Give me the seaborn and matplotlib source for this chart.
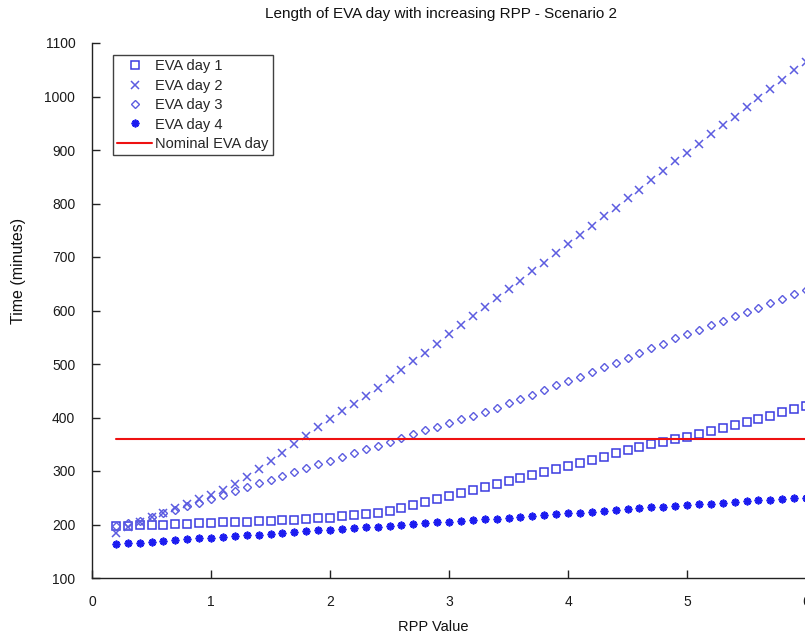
import matplotlib
matplotlib.use("Agg")
import matplotlib.pyplot as plt
import seaborn as sns
import pandas as pd

rpp = [0.2, 0.3, 0.4, 0.5, 0.6, 0.7, 0.8, 0.9, 1.0, 1.1, 1.2, 1.3, 1.4, 1.5, 1.6, 1.7, 1.8, 1.9,
       2.0, 2.1, 2.2, 2.3, 2.4, 2.5, 2.6, 2.7, 2.8, 2.9, 3.0, 3.1, 3.2, 3.3, 3.4, 3.5, 3.6, 3.7,
       3.8, 3.9, 4.0, 4.1, 4.2, 4.3, 4.4, 4.5, 4.6, 4.7, 4.8, 4.9, 5.0, 5.1, 5.2, 5.3, 5.4, 5.5,
       5.6, 5.7, 5.8, 5.9, 6.0]

eva_day1 = [197, 198, 199, 200, 200, 201, 201, 202, 203, 204, 204, 205, 206, 207, 208, 209, 211, 212,
            213, 215, 217, 219, 222, 226, 231, 236, 242, 248, 254, 259, 265, 270, 276, 282, 287, 292,
            298, 303, 309, 315, 321, 327, 333, 339, 344, 350, 355, 360, 364, 370, 375, 381, 386, 391,
            397, 403, 410, 416, 421]

eva_day2 = [185, 196, 205, 214, 222, 230, 238, 247, 255, 265, 276, 289, 303, 319, 334, 350, 366, 382,
            397, 412, 425, 441, 456, 472, 488, 505, 521, 538, 556, 573, 590, 606, 623, 640, 656, 673,
            689, 708, 724, 741, 758, 776, 792, 810, 826, 844, 861, 879, 895, 912, 929, 947, 962, 980,
            997, 1014, 1031, 1049, 1065]

eva_day3 = [197, 202, 207, 214, 221, 228, 235, 241, 248, 255, 263, 270, 277, 284, 291, 298, 306, 313,
            319, 327, 334, 341, 347, 355, 361, 369, 376, 382, 389, 397, 403, 411, 418, 427, 435, 442,
            451, 460, 468, 476, 485, 494, 502, 511, 520, 529, 538, 548, 556, 564, 572, 580, 589, 597,
            605, 614, 622, 631, 639]

eva_day4 = [163, 165, 166, 168, 169, 171, 172, 174, 175, 177, 178, 180, 181, 183, 184, 186, 187, 189,
            190, 192, 193, 195, 196, 198, 199, 201, 202, 204, 205, 207, 208, 210, 211, 213, 214, 216,
            218, 219, 221, 222, 224, 225, 227, 229, 230, 232, 233, 235, 236, 238, 239, 241, 242, 244,
            245, 246, 248, 249, 250]

nominal_x = [0.2, 7.0]
nominal_y = [360, 360]

y_ticks = [100, 200, 300, 400, 500, 600, 700, 800, 900, 1000, 1100]
x_ticks = [0, 1, 2, 3, 4, 5, 6, 7]

sns.set_style("white")
plt.rcParams['font.family'] = ['Liberation Sans', 'DejaVu Sans']

W, H = 805, 635
fig = plt.figure(figsize=(W / 100, H / 100), dpi=100)
ax = fig.add_axes([92 / W, 57 / H, 7 * 119 / W, 535 / H])

df = pd.DataFrame({"rpp": rpp, "d1": eva_day1, "d2": eva_day2, "d3": eva_day3, "d4": eva_day4})

sns.lineplot(data=df, x="rpp", y="d1", ax=ax, linestyle="none", marker="s", markersize=5.6,
             markerfacecolor="none", markeredgecolor="#3a3ae0", markeredgewidth=1.1,
             color="#3a3ae0", label="EVA day 1")
sns.lineplot(data=df, x="rpp", y="d2", ax=ax, linestyle="none", marker="x", markersize=5.8,
             markeredgecolor="#5c5ce0", markeredgewidth=1.1, color="#5c5ce0", label="EVA day 2")
sns.lineplot(data=df, x="rpp", y="d3", ax=ax, linestyle="none", marker="D", markersize=4.0,
             markerfacecolor="none", markeredgecolor="#5c5ce0", markeredgewidth=1.0,
             color="#5c5ce0", label="EVA day 3")
sns.lineplot(data=df, x="rpp", y="d4", ax=ax, linestyle="none", marker=(8, 2, 0), markersize=5.6,
             markeredgecolor="#1c1cf0", markeredgewidth=1.3, color="#1c1cf0", label="EVA day 4")
sns.lineplot(x=nominal_x, y=nominal_y, ax=ax, color="#ee1111", linewidth=1.5,
             label="Nominal EVA day")

ax.set_xlim(0, 7)
ax.set_ylim(100, 1100)
ax.set_xticks(x_ticks)
ax.set_yticks(y_ticks)
ax.set_xlabel("")
ax.set_ylabel("")
for s in ["top", "right"]:
    ax.spines[s].set_visible(False)
for s in ["left", "bottom"]:
    ax.spines[s].set_color("#222222")
    ax.spines[s].set_linewidth(1.0)
ax.tick_params(direction="in", length=6, width=1, color="#222222", labelsize=10,
               labelcolor="#1a1a1a", pad=12, left=True, bottom=True)

leg = ax.legend(loc="upper left", bbox_to_anchor=(113 / W, 1 - 55 / H),
                bbox_transform=fig.transFigure, fancybox=False, frameon=True,
                edgecolor="#111111", fontsize=10.5, handlelength=2.4, handletextpad=0.2,
                borderpad=0.3, labelspacing=0.37, borderaxespad=0)
leg.get_frame().set_linewidth(1.0)

fig.text(441 / W, 1 - 14 / H, "Length of EVA day with increasing RPP - Scenario 2",
         ha="center", va="center", fontsize=11, color="#111111")
fig.text(433 / W, 1 - 627 / H, "RPP Value", ha="center", va="center", fontsize=10.5, color="#111111")
fig.text(18 / W, 1 - 271 / H, "Time (minutes)", ha="center", va="center", rotation=90,
         fontsize=11.5, color="#111111")

fig.savefig("out.png", dpi=100)
